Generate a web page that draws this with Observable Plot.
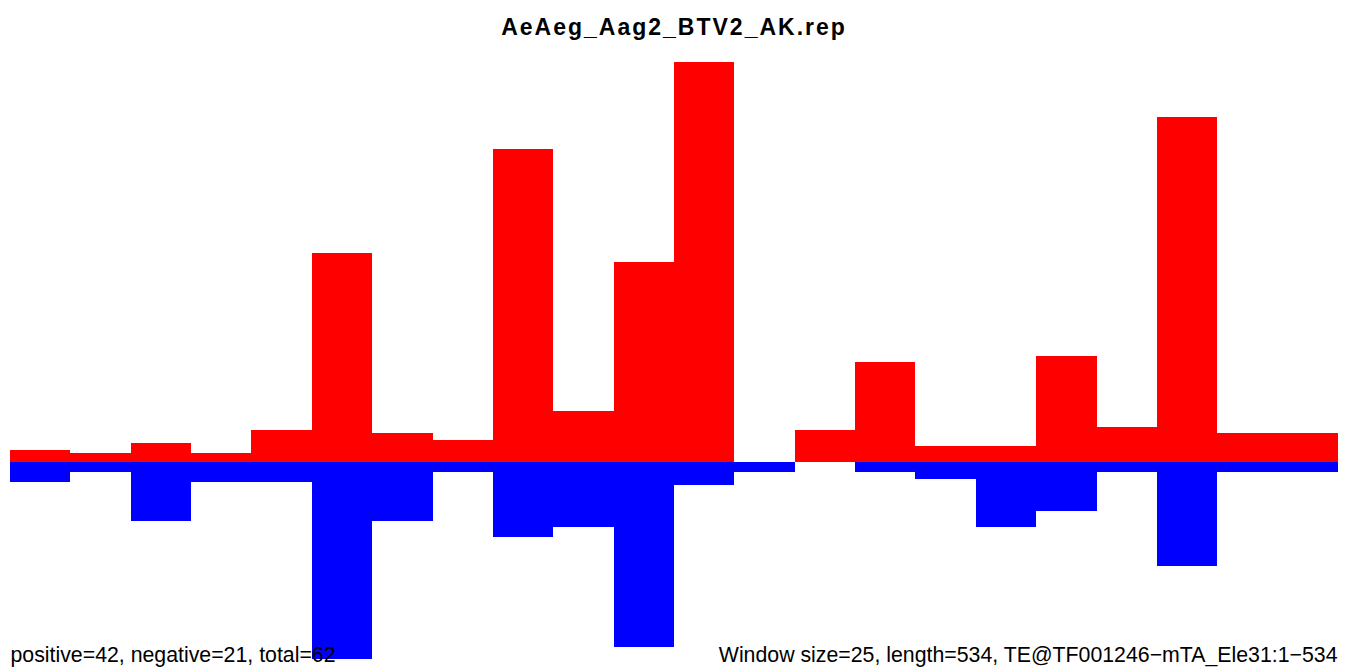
<!DOCTYPE html>
<html>
<head>
<meta charset="utf-8">
<script src="https://cdn.jsdelivr.net/npm/d3@7"></script>
<script src="https://cdn.jsdelivr.net/npm/@observablehq/plot@0.6"></script>
<style>
  html, body { margin: 0; padding: 0; background: #fff; }
  #chart svg { display: block; }
</style>
</head>
<body>
<div id="chart"></div>
<script>
const bins = [1, 2, 3, 4, 5, 6, 7, 8, 9, 10, 11, 12, 13, 14, 15, 16, 17, 18, 19, 20, 21, 22];
const positive = [1.2, 0.9, 1.9, 0.9, 3.2, 20.9, 2.9, 2.2, 31.3, 5.1, 20.0, 40.0, 0, 3.2, 10.0, 1.6, 1.6, 10.6, 3.5, 34.5, 2.9, 2.9];
const negative = [2.0, 1.0, 5.9, 2.0, 2.0, 19.7, 5.9, 1.0, 7.5, 6.5, 18.5, 2.3, 1.0, 0, 1.0, 1.7, 6.5, 4.9, 1.0, 10.4, 1.0, 1.0];
const titleText = "AeAeg_Aag2_BTV2_AK.rep";
const leftNote = "positive=42, negative=21, total=62";
const rightNote = "Window size=25, length=534, TE@TF001246\u2212mTA_Ele31:1\u2212534";

const data = bins.map((b, i) => ({bin: b, pos: positive[i], neg: negative[i]}));
const font = "'Liberation Sans', Arial, Helvetica, sans-serif";

const chart = Plot.plot({
  width: 1350,
  height: 671,
  marginTop: 62,
  marginBottom: 12,
  marginLeft: 10,
  marginRight: 12,
  style: {background: "#fff", fontFamily: font},
  x: {type: "band", domain: bins, padding: 0, round: false, axis: null},
  y: {domain: [-d3.max(negative), d3.max(positive)], axis: null},
  marks: [
    Plot.barY(data, {x: "bin", y: d => -d.neg, fill: "#0000ff", inset: 0, shapeRendering: "crispEdges"}),
    Plot.barY(data, {x: "bin", y: "pos", fill: "#ff0000", inset: 0, shapeRendering: "crispEdges"}),
    Plot.text([titleText], {text: d => d, frameAnchor: "top", lineAnchor: "bottom", dy: -28, dx: -0.5,
      fontSize: 23, fontWeight: "bold", fill: "#000", className: "ttl"}),
    Plot.text([leftNote], {text: d => d, frameAnchor: "bottom-left", textAnchor: "start", lineAnchor: "bottom", dy: 2,
      fontSize: 21.3, fill: "#000"}),
    Plot.text([rightNote], {text: d => d, frameAnchor: "bottom-right", textAnchor: "end", lineAnchor: "bottom", dy: 2, dx: -1,
      fontSize: 21.3, fill: "#000"})
  ]
});
document.getElementById("chart").appendChild(chart);
d3.select(chart).selectAll(".ttl text").style("letter-spacing", "2px");
</script>
</body>
</html>
